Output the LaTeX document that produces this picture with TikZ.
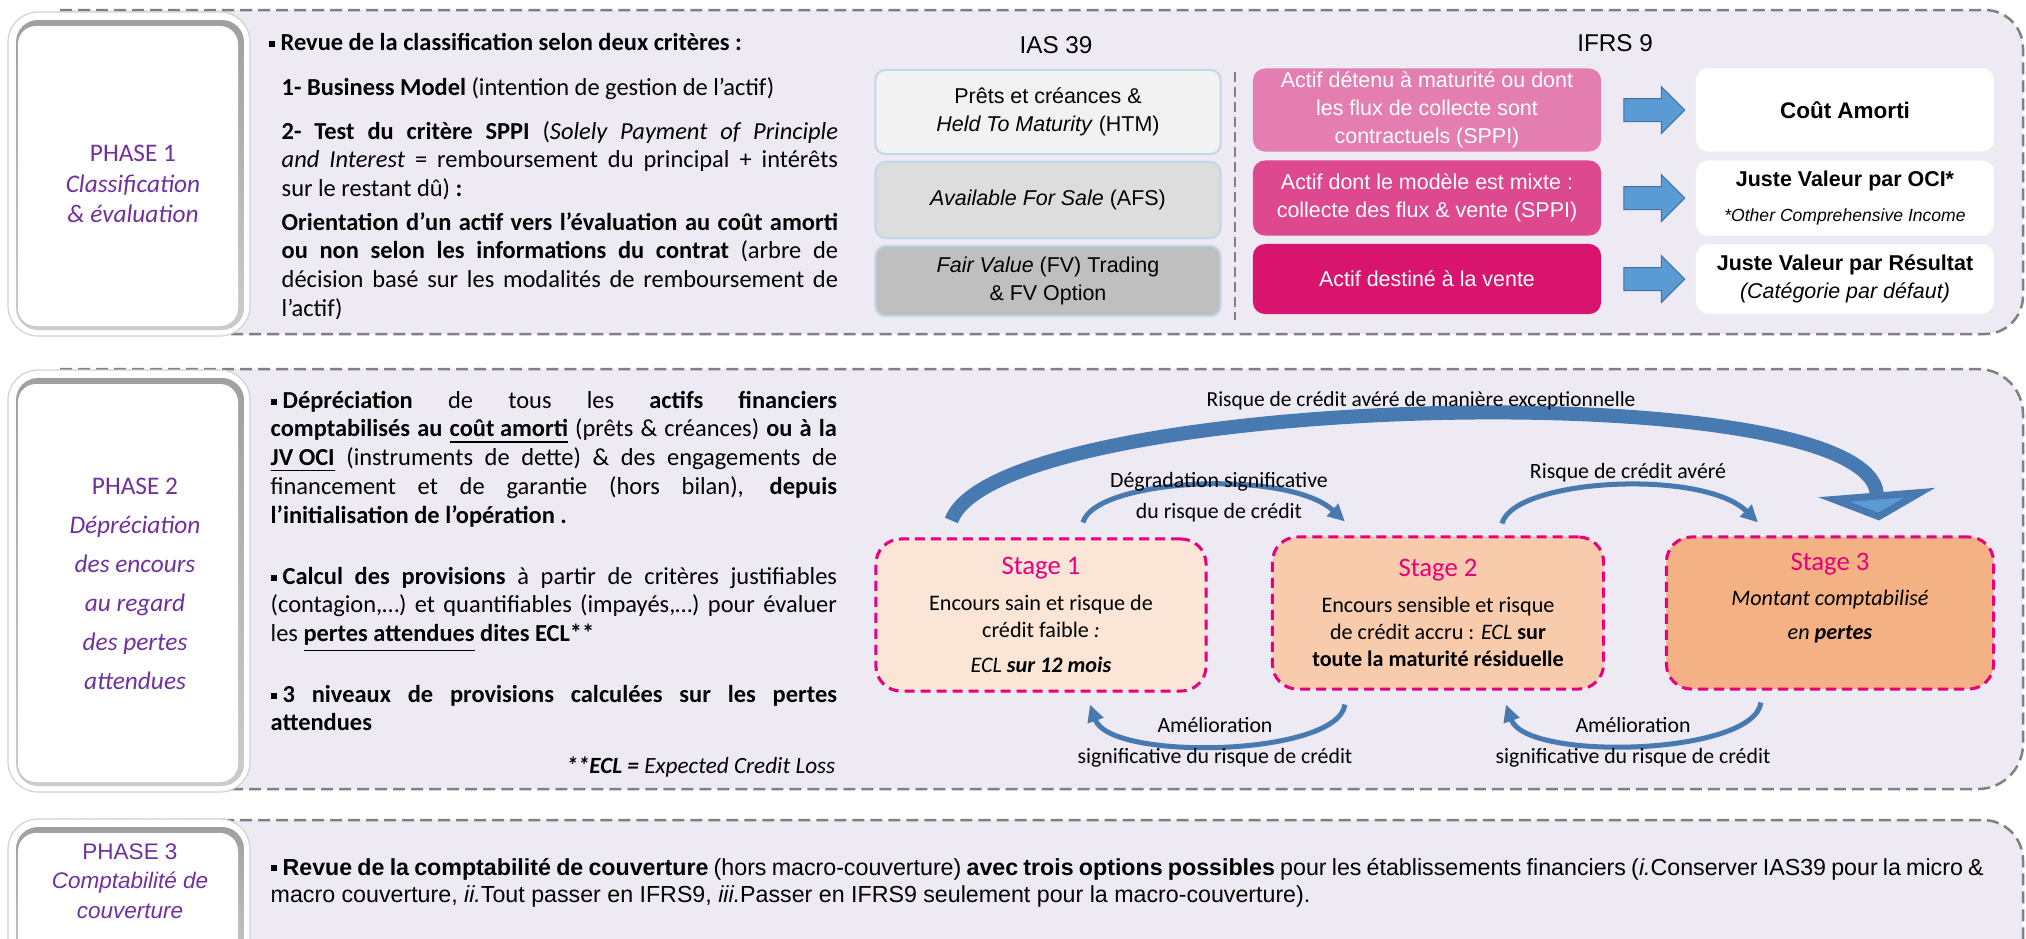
\documentclass[tikz,border=0pt]{standalone}
\usepackage{fontspec}
\setmainfont{Carlito}
\newfontfamily\arialfont{Liberation Sans}
\usetikzlibrary{arrows.meta,calc,positioning,shapes.arrows}

\definecolor{bandfill}{RGB}{238,234,244}
\definecolor{bandline}{RGB}{128,128,128}
\definecolor{phasepurple}{RGB}{112,48,160}
\definecolor{iasA}{RGB}{242,242,242}
\definecolor{iasB}{RGB}{221,221,221}
\definecolor{iasC}{RGB}{191,191,191}
\definecolor{iasedge}{RGB}{194,214,236}
\definecolor{pinkA}{RGB}{228,125,176}
\definecolor{pinkB}{RGB}{222,72,142}
\definecolor{pinkC}{RGB}{217,20,110}
\definecolor{blockblue}{RGB}{91,155,213}
\definecolor{blockedge}{RGB}{65,113,156}
\definecolor{stageA}{RGB}{251,229,214}
\definecolor{stageB}{RGB}{248,203,173}
\definecolor{stageC}{RGB}{244,177,131}
\definecolor{stageline}{RGB}{230,0,126}
\definecolor{curveblue}{RGB}{70,122,176}

\newcommand\puce{\rule[0.3ex]{0.5ex}{0.5ex}\hspace{0.25em}}
\newcommand\stagehead[1]{{\color{stageline}\fontsize{7.6}{10}\selectfont #1}}

\tikzset{
  band/.style={draw=bandline, fill=bandfill, line width=0.025cm, dash pattern=on 0.12cm off 0.06cm},
  labelout/.style={fill=white, draw=gray!35, line width=0.012cm, rounded corners=0.3cm},
  labelbevel/.style={top color=gray!75, bottom color=gray!40, rounded corners=0.22cm},
  labelface/.style={fill=white, rounded corners=0.18cm},
  phaselab/.style={align=center, text=phasepurple, font=\fontsize{7.2}{8.6}\selectfont},
  txt/.style={inner sep=0pt, align=justify, font=\fontsize{6.95}{8.2}\selectfont},
  ihead/.style={font=\arialfont\fontsize{6.9}{8}\selectfont},
  iasbox/.style={draw=iasedge, line width=0.02cm, rounded corners=0.1cm, inner sep=0pt, minimum width=3.45cm, align=center, font=\arialfont\fontsize{6.1}{8}\selectfont},
  ifrsbox/.style={rounded corners=0.12cm, inner sep=0pt, minimum width=3.48cm, align=center, text=white, font=\arialfont\fontsize{6.1}{8}\selectfont},
  resbox/.style={fill=white, rounded corners=0.12cm, inner sep=0pt, minimum width=2.98cm, align=center, font=\arialfont\fontsize{6.1}{8}\selectfont},
  blockarrow/.style={single arrow, fill=blockblue, draw=blockedge, line width=0.01cm, inner xsep=0pt, inner ysep=0.11cm, minimum height=0.61cm, single arrow head extend=0.12cm},
  stagebox/.style={draw=stageline, line width=0.03cm, dash pattern=on 0.1cm off 0.06cm, rounded corners=0.25cm, minimum height=1.52cm, align=center, font=\fontsize{6.3}{7.7}\selectfont},
  curvearrow/.style={curveblue, line width=0.05cm, -{Triangle[length=0.17cm, width=0.16cm]}},
  bigarrow/.style={curveblue, line width=0.14cm, -{Triangle[length=0.28cm, width=1.16cm, fill=blockblue]}},
  curvelab/.style={align=center, font=\fontsize{6.2}{8.8}\selectfont}
}

\begin{document}
\begin{tikzpicture}[x=0.01cm, y=-0.01cm]
\useasboundingbox (0,0) rectangle (2026,938);

\draw[band, rounded corners=0.38cm] (60,10) -- (2023,10) -- (2023,334) -- (60,334);
\draw[band, rounded corners=0.45cm] (60,369) -- (2023,369) -- (2023,789) -- (60,789);
\draw[band, rounded corners=0.4cm] (60,820) -- (2023,820) -- (2023,990) -- (60,990);

\draw[labelout] (8,12) rectangle (250,336);
\shade[labelbevel] (16,20) rectangle (244,330);
\fill[labelface] (18,26) rectangle (238,326);
\draw[labelout] (8,370) rectangle (250,792);
\shade[labelbevel] (16,378) rectangle (244,786);
\fill[labelface] (18,384) rectangle (238,782);
\draw[labelout] (8,819) rectangle (250,990);
\shade[labelbevel] (16,827) rectangle (244,985);
\fill[labelface] (18,833) rectangle (238,980);

\node[phaselab] (ph1) at (133,184) {PHASE 1\\\textit{Classification}\\\textit{\& évaluation}};
\node[phaselab, font=\fontsize{7.2}{11.1}\selectfont] (ph2) at (135,584) {PHASE 2\\\textit{Dépréciation}\\\textit{des encours}\\\textit{au regard}\\\textit{des pertes}\\\textit{attendues}};
\node[phaselab, font=\arialfont\fontsize{6.4}{8.4}\selectfont] (ph3) at (130,881) {PHASE 3\\\textit{Comptabilité de}\\\textit{couverture}};

\node[txt, text width=5.7cm, anchor=base west] (p1intro) at (268,50) {\puce\textbf{Revue de la classification selon deux critères :}};
\node[txt, text width=5.56cm, anchor=base west] (p1bm) at (281,95) {\textbf{1- Business Model} (intention de gestion de l’actif)};
\node[txt, text width=5.56cm, anchor=base west] (p1sppi) at (281,139) {\textbf{2- Test du critère SPPI} (\textit{Solely Payment of Principle}\linebreak \textit{and Interest} = remboursement du principal + intérêts\linebreak sur le restant dû) \textbf{:}};
\node[txt, text width=5.56cm, anchor=base west] (p1orient) at (281,230) {\textbf{Orientation d’un actif vers l’évaluation au coût amorti}\linebreak \textbf{ou non selon les informations du contrat} (arbre de\linebreak décision basé sur les modalités de remboursement de\linebreak l’actif)};

\node[ihead] (ias) at (1056,45) {IAS 39};
\node[ihead] (ifrs) at (1615,43) {IFRS 9};
\node[iasbox, fill=iasA, minimum height=0.84cm] (ias1) at (1048,112) {Prêts et créances \&\\\textit{Held To Maturity} (HTM)};
\node[iasbox, fill=iasB, minimum height=0.76cm] (ias2) at (1048,200) {\textit{Available For Sale} (AFS)};
\node[iasbox, fill=iasC, minimum height=0.70cm] (ias3) at (1048,281) {\textit{Fair Value} (FV) Trading\\\& FV Option};
\draw[bandline, line width=0.02cm, dash pattern=on 0.1cm off 0.05cm] (1235,72) -- (1235,320);
\node[ifrsbox, fill=pinkA, minimum height=0.83cm] (pk1) at (1427,110) {Actif détenu à maturité ou dont\\les flux de collecte sont\\contractuels (SPPI)};
\node[ifrsbox, fill=pinkB, minimum height=0.75cm] (pk2) at (1427,198) {Actif dont le modèle est mixte :\\collecte des flux \& vente (SPPI)};
\node[ifrsbox, fill=pinkC, minimum height=0.70cm] (pk3) at (1427,279) {Actif destiné à la vente};
\node[resbox, minimum height=0.83cm] (res1) at (1845,110) {\fontsize{6.4}{8}\selectfont\textbf{Coût Amorti}};
\node[resbox, minimum height=0.75cm] (res2) at (1845,198) {\textbf{Juste Valeur par OCI*}\\[2pt]{\fontsize{5}{6}\selectfont\textit{*Other Comprehensive Income}}};
\node[resbox, minimum height=0.69cm] (res3) at (1845,279) {\textbf{Juste Valeur par Résultat}\\\textit{(Catégorie par défaut)}};
\node[blockarrow] (ar1) at ($(pk1.east)!0.5!(res1.west)$) {};
\node[blockarrow] (ar2) at ($(pk2.east)!0.5!(res2.west)$) {};
\node[blockarrow] (ar3) at ($(pk3.east)!0.5!(res3.west)$) {};

\node[txt, text width=5.66cm, anchor=base west] (p2dep) at (270,408) {\puce\textbf{Dépréciation} de tous les \textbf{actifs financiers}\linebreak \textbf{comptabilisés au \underline{coût amorti}} (prêts \& créances) \textbf{ou à la}\linebreak \textbf{\underline{JV OCI}} (instruments de dette) \& des engagements de\linebreak financement et de garantie (hors bilan), \textbf{depuis}\linebreak \textbf{l’initialisation de l’opération .}};
\node[txt, text width=5.66cm, anchor=base west] (p2calc) at (270,584) {\puce\textbf{Calcul des provisions} à partir de critères justifiables\linebreak (contagion,…) et quantifiables (impayés,…) pour évaluer\linebreak les \underline{\textbf{pertes attendues}} \textbf{dites ECL**}};
\node[txt, text width=5.66cm, anchor=base west] (p2niv) at (270,702) {\puce\textbf{3 niveaux de provisions calculées sur les pertes}\linebreak \textbf{attendues}};
\node[inner sep=0pt, anchor=base east, font=\fontsize{6.6}{7}\selectfont] (p2ecl) at (836,773) {\textit{\textbf{**ECL =} Expected Credit Loss}};

\node[stagebox, fill=stageA, minimum width=3.3cm] (s1) at (1041,615) {\stagehead{Stage 1}\\[2.5pt]Encours sain et risque de\\crédit faible \textit{:}\\[2.3pt]\textit{ECL \textbf{sur 12 mois}}};
\node[stagebox, fill=stageB, minimum width=3.31cm] (s2) at (1438,613) {\stagehead{Stage 2}\\[2.5pt]Encours sensible et risque\\de crédit accru : \textit{ECL} \textbf{sur}\\\textbf{toute la maturité résiduelle}};
\node[stagebox, fill=stageC, minimum width=3.27cm, text depth=0.33cm] (s3) at (1830,613) {\stagehead{Stage 3}\\[2.2pt]\textit{Montant comptabilisé}\\[2.2pt]\textit{en \textbf{pertes}}};

\coordinate (big1) at ($(s1.north west)+(77,-17)$);
\coordinate (big3) at ($(s3.north)+(49,-15)$);
\draw[bigarrow] (big1) .. controls +(47,-127) and +(-12,-150) .. (big3);
\node[curvelab, font=\fontsize{6.1}{8}\selectfont] (lbig) at (1421,401) {Risque de crédit avéré de manière exceptionnelle};

\draw[curvearrow] ($(s1.north)+(42,-15)$) .. controls +(12,-44) and +(-57,-53) .. ($(s2.north west)+(74,-14)$);
\draw[curvearrow] ($(s2.north)+(64,-12)$) .. controls +(12,-45) and +(-55,-54) .. ($(s3.north west)+(93,-13)$);
\draw[curvearrow] ($(s2.south west)+(74,14)$) .. controls +(-7,52) and +(20,57) .. ($(s1.south)+(49,12)$);
\draw[curvearrow] ($(s3.south west)+(96,12)$) .. controls +(-7,53) and +(20,57) .. ($(s2.south)+(68,14)$);
\node[curvelab] (l12) at (1219,497) {Dégradation significative\\du risque de crédit};
\node[curvelab] (l23) at (1628,473) {Risque de crédit avéré};
\node[curvelab] (l21) at (1215,742) {Amélioration\\significative du risque de crédit};
\node[curvelab] (l32) at (1633,742) {Amélioration\\significative du risque de crédit};

\node[txt, text width=17.12cm, anchor=base west, font=\arialfont\fontsize{6.6}{7.8}\selectfont] (p3txt) at (270,875) {\puce\textbf{Revue de la comptabilité de couverture} (hors macro-couverture) \textbf{avec trois options possibles} pour les établissements financiers (\textit{i.}Conserver IAS39 pour la micro \&\linebreak macro couverture, \textit{ii.}Tout passer en IFRS9, \textit{iii.}Passer en IFRS9 seulement pour la macro-couverture).};
\end{tikzpicture}
\end{document}
